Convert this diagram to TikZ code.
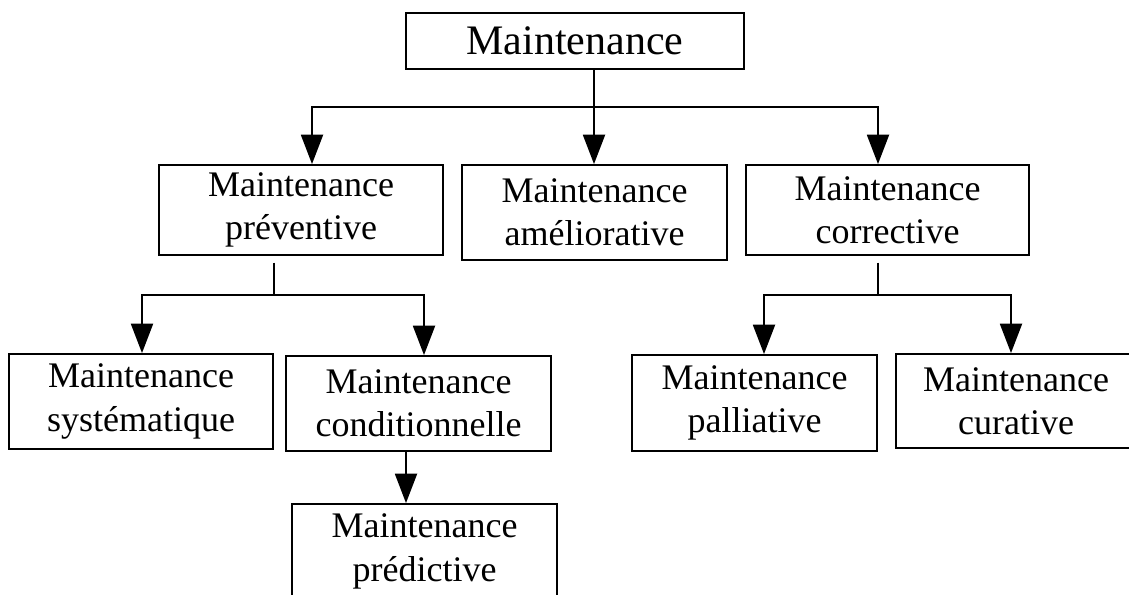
\documentclass[tikz,border=0pt]{standalone}
\usepackage{fontspec}
\setmainfont{Liberation Serif}
\usepackage{tikz}
\usetikzlibrary{arrows.meta}

\begin{document}
\begin{tikzpicture}[x=0.75pt,y=-0.75pt,>={Triangle[length=22pt,width=16.5pt]},line width=1.4pt]
              \tikzstyle{mbox}=[rectangle,draw,align=center,inner sep=0pt,font=\fontsize{27}{32.5}\selectfont]
              \tikzstyle{topbox}=[rectangle,draw,inner sep=0pt,font=\fontsize{31.5}{38}\selectfont]

              \fill[white] (0,0) rectangle (1129,594);
              \useasboundingbox (0,0) rectangle (1129,594);

              \node[topbox,minimum width=253.5pt,minimum height=42pt] (maint) at (575,41) {Maintenance};

              \node[mbox,minimum width=213pt,minimum height=67.5pt]     (prev) at (301,210)   {Maintenance\\préventive};
              \node[mbox,minimum width=198.75pt,minimum height=71.25pt] (amel) at (594.5,212.5) {Maintenance\\améliorative};
              \node[mbox,minimum width=212.25pt,minimum height=67.5pt]  (corr) at (887.5,210) {Maintenance\\corrective};

              \node[mbox,minimum width=198pt,minimum height=71.25pt]    (syst) at (141,401.5)   {Maintenance\\systématique};
              \node[mbox,minimum width=198.75pt,minimum height=71.25pt] (cond) at (418.5,403.5) {Maintenance\\conditionnelle};
              \node[mbox,minimum width=183.75pt,minimum height=72pt]    (pall) at (754.5,403)   {Maintenance\\palliative};
              \node[mbox,minimum width=180pt,minimum height=70.5pt]     (cura) at (1016,401)    {Maintenance\\curative};
              \node[mbox,minimum width=198.75pt,minimum height=71.25pt] (pred) at (424.5,551.5) {Maintenance\\prédictive};

              % junctions
              \coordinate (ta) at (594,107);
              \coordinate (pa) at (274,295);
              \coordinate (ca) at (878,295);

              \draw[->] (maint.south -| ta) -- (ta |- amel.north);
              \draw[<->] ([xshift=8.25pt]prev.north) |- (ta) -| ([xshift=-7.125pt]corr.north);

              \draw[shorten <=5pt] (prev.south -| pa) -- (pa);
              \draw[<->] ([xshift=0.75pt]syst.north) |- (pa) -| ([xshift=4.125pt]cond.north);

              \draw[shorten <=5pt] (corr.south -| ca) -- (ca);
              \draw[<->] ([xshift=7.125pt]pall.north) |- (ca) -| ([xshift=-3.75pt]cura.north);

              \draw[->] ([xshift=-9.375pt]cond.south) -- ([xshift=-9.375pt]cond.south |- pred.north);
\end{tikzpicture}
\end{document}
